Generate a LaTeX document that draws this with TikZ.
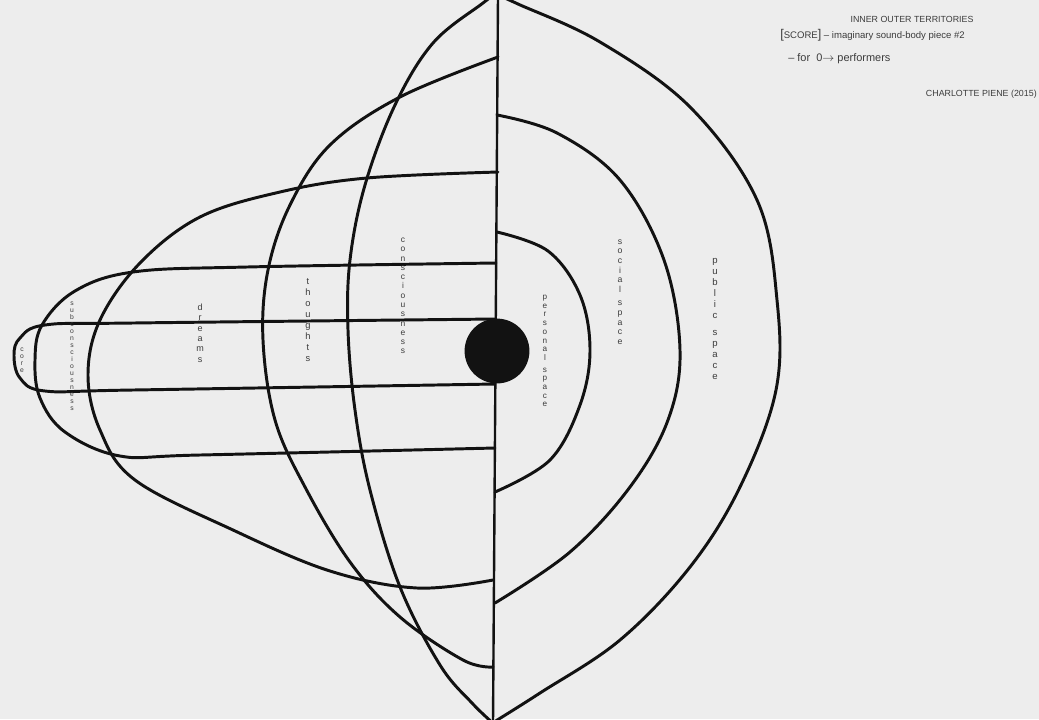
\documentclass[tikz,border=0pt]{standalone}
\usepackage{fontspec}
\setmainfont{Liberation Sans}
\usepackage{tikz}
\usetikzlibrary{positioning}
\definecolor{myink}{RGB}{18,18,18}
\definecolor{mypencil}{RGB}{60,60,60}
\definecolor{mypaper}{RGB}{237,237,237}
\tikzset{
  ink/.style={line width=2.1pt, color=myink, line cap=round, line join=round},
  wobble/.style={ink, smooth, tension=0.6},
  stackword/.style={align=center, inner sep=0pt, text=mypencil},
  note/.style={inner sep=0pt, text=mypencil, font=\fontsize{6.8}{8}\selectfont}
}

\begin{document}
\begin{tikzpicture}[x=0.025cm, y=-0.025cm]
  % Paper
  \fill[mypaper] (0,0) rectangle (1039,719);
  \useasboundingbox (0,0) rectangle (1039,719);
  \clip (0,0) rectangle (1039,719);
  % Dividing line
  \draw[ink, line width=1.7pt] (498,-5) -- (493,724);
  % Consciousness
  \draw[wobble] plot coordinates {(498,-8) (483,3) (433,43) (395,105) (365,185)
    (350,260) (348,330) (355,410) (370,490) (400,587) (440,665) (472,703) (494,724)};
  % Thoughts
  \draw[wobble] plot coordinates {(498,57) (400,97) (330,145) (290,205) (268,270)
    (263,340) (275,420) (305,487) (350,562) (400,617) (463,660) (493,667)};
  % Dreams
  \draw[wobble] plot coordinates {(498,172) (367,178) (280,192) (200,217) (140,263)
    (100,320) (88,375) (100,430) (135,480) (233,530) (330,571) (417,588) (493,580)};
  % Subconsciousness
  \draw[wobble] plot coordinates {(496,263) (247,267) (133,272) (75,291) (42,325)
    (35,360) (40,398) (65,432) (120,456) (200,455) (495,448)};
  % Core
  \draw[wobble] plot coordinates {(496,319) (133,323) (45,325) (20,338) (14,355)
    (20,378) (45,391) (133,390) (495,384)};
  % Personal space
  \draw[wobble] plot coordinates {(497,232) (548,251) (580,295) (590,350) (580,405)
    (550,460) (495,492)};
  % Social space
  \draw[wobble] plot coordinates {(497,115) (557,133) (620,180) (664,260) (680,350)
    (668,420) (630,487) (570,552) (495,603)};
  % Public space
  \draw[wobble] plot coordinates {(498,-5) (518,4) (600,42) (690,107) (757,200)
    (777,300) (776,390) (740,487) (690,567) (620,640) (540,693) (494,722)};
  % Self
  \node[circle, fill=myink, inner sep=0pt, minimum size=1.62cm] (self) at (497,351) {};
  % Inner labels
  \node[stackword, font=\fontsize{4.8}{5}\selectfont] (core) at (22,360) {c\\o\\r\\e};
  \node[stackword, font=\fontsize{4.8}{5}\selectfont] (subcon) at (72,356)
    {s\\u\\b\\c\\o\\n\\s\\c\\i\\o\\u\\s\\n\\e\\s\\s};
  \node[stackword, font=\fontsize{6.4}{7.4}\selectfont] (dreams) at (200,333)
    {d\\r\\e\\a\\m\\s};
  \node[stackword, font=\fontsize{6.6}{7.8}\selectfont] (thoughts) at (308,320)
    {t\\h\\o\\u\\g\\h\\t\\s};
  \node[stackword, font=\fontsize{6}{6.6}\selectfont] (conscious) at (403,296)
    {c\\o\\n\\s\\c\\i\\o\\u\\s\\n\\e\\s\\s};
  % Outer labels
  \node[stackword, font=\fontsize{5.8}{6.2}\selectfont] (personal) at (545,351)
    {p\\e\\r\\s\\o\\n\\a\\l\\[2pt]s\\p\\a\\c\\e};
  \node[stackword, font=\fontsize{6.2}{6.8}\selectfont] (social) at (620,292)
    {s\\o\\c\\i\\a\\l\\[3pt]s\\p\\a\\c\\e};
  \node[stackword, font=\fontsize{6.8}{7.8}\selectfont] (public) at (715,319)
    {p\\u\\b\\l\\i\\c\\[4pt]s\\p\\a\\c\\e};
  % Heading notes
  \node[note, font=\fontsize{6.3}{8}\selectfont] (title) at (912,19) {INNER OUTER TERRITORIES};
  \node[note, anchor=west] (score) at (780,35)
    {{\fontsize{9}{9}\selectfont[}SCORE{\fontsize{9}{9}\selectfont]} -- imaginary sound-body piece \#2};
  \node[note, font=\fontsize{7.8}{9}\selectfont, anchor=west] (players) at (788,59)
    {-- for\ \ 0$\rightarrow$\ performers};
  \node[note, font=\fontsize{6.3}{8}\selectfont, anchor=east] (author) at (1037,94)
    {CHARLOTTE PIENE (2015)};
\end{tikzpicture}
\end{document}
